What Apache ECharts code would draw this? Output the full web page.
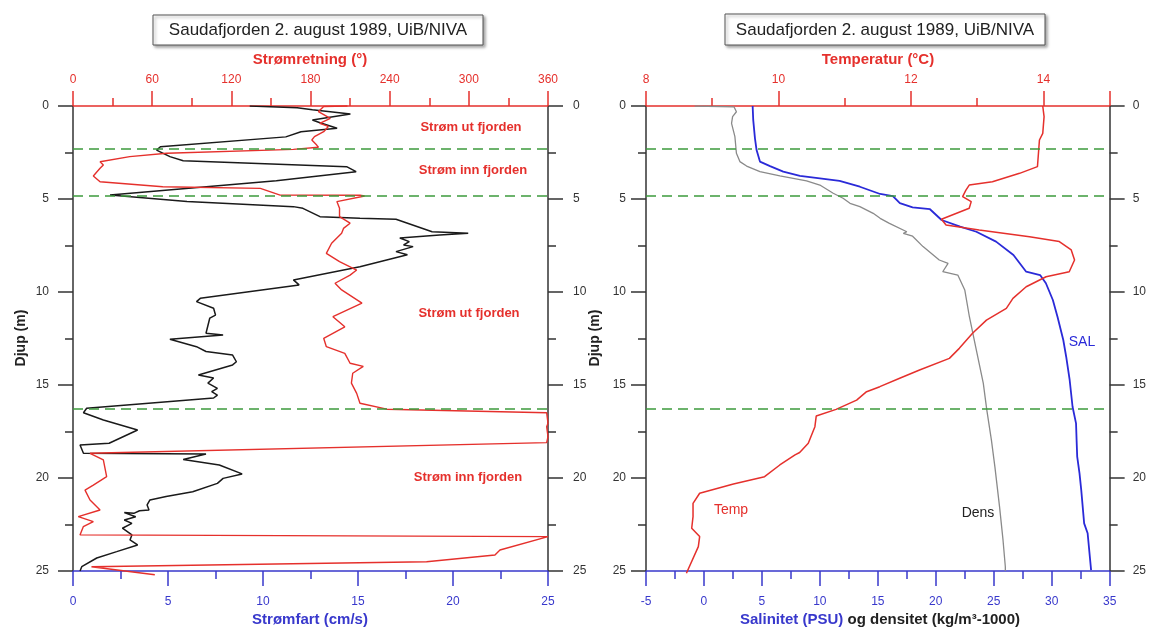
<!DOCTYPE html>
<html>
<head>
<meta charset="utf-8">
<script src="https://cdn.jsdelivr.net/npm/echarts@6/dist/echarts.min.js"></script>
<style>
html,body{margin:0;padding:0;background:#fff;}
#chart{width:1149px;height:629px;}
</style>
</head>
<body>
<div id="chart"></div>
<script>
// ---------- DATA ----------
const titleText = 'Saudafjorden 2. august 1989, UiB/NIVA';

// Left panel: current speed (cm/s) vs depth (m)
const speedDepth = [0,0.1,0.2,0.43,0.75,0.9,1.2,1.38,1.66,2.19,2.37,2.72,2.94,3.26,3.53,4.02,4.79,5.14,5.41,5.5,5.95,6.03,6.09,6.76,6.84,6.94,7.1,7.29,7.47,7.56,7.83,8.0,8.64,9.35,9.62,10.34,10.52,10.87,11.24,11.4,12.22,12.31,12.54,12.94,13.2,13.39,13.75,13.92,14.46,14.62,14.9,15.18,15.36,15.54,15.7,16.25,16.49,16.88,17.42,18.13,18.23,18.67,18.71,19.0,19.3,19.78,20.02,20.29,20.74,21.0,21.18,21.45,21.72,21.76,21.9,21.86,22.08,22.26,22.44,22.7,23.06,23.33,23.6,23.96,24.3,24.77,25.0];
const speedVals  = [9.3,11.8,12.6,14.6,12.6,13.0,13.9,12.0,11.2,4.6,4.4,5.1,5.8,14.4,14.9,10.7,1.95,6.0,11.6,12.1,13.0,15.1,17.0,18.9,20.8,19.3,17.2,17.7,17.4,17.9,17.0,17.6,15.1,11.6,11.9,6.7,6.5,7.4,7.5,7.2,7.0,7.9,5.1,6.5,7.0,8.4,8.6,8.4,6.6,7.4,7.1,7.6,7.3,7.6,7.4,0.72,0.55,1.6,3.4,1.9,0.37,0.55,7.0,5.8,7.7,8.9,7.9,7.6,6.3,4.9,4.05,3.9,4.0,3.5,3.2,2.7,3.3,2.7,3.1,2.6,3.1,3.0,3.4,2.3,1.25,0.46,0.37];

// Left panel: current direction (degrees) vs depth (m)
const dirDepth = [0,0.03,0.3,0.66,0.93,1.1,1.38,1.65,1.83,2.1,2.22,2.33,2.54,2.72,3.0,3.17,3.35,3.76,4.07,4.34,4.43,4.79,4.8,4.84,5.14,5.5,5.95,6.3,6.58,6.84,7.38,7.92,8.37,8.82,9.09,9.53,9.89,10.6,11.33,11.87,12.49,12.94,13.3,13.83,14.0,14.37,14.9,15.45,15.98,16.3,16.49,17.06,17.24,17.78,18.1,18.67,19.03,19.93,20.38,20.65,21.18,21.72,22.08,22.35,22.62,23.06,23.1,23.15,23.87,24.14,24.5,24.77,25.2];
const dirVals  = [208,190,186,195,187,193.5,190,183,181,184.7,186,167,71,43,20.5,23,20.5,15.4,20.5,68,142,157,217.5,221,200,202,202,210,205,203.6,196,192,202,215,210,198.6,203.6,219,197,206,190,192,206,210,220,212,211,215,217.5,237.8,359,360,359,360,359,12.9,23,25.5,15.4,9.1,12.9,20.5,4,15.4,7.8,5.3,5,360,323.6,319.8,268,14,62];

// Right panel: temperature (°C) vs depth (m)
const tempDepth = [0,0.57,1.47,1.83,3.26,3.62,4.07,4.25,4.52,4.87,5.14,5.5,6.09,6.4,6.67,7.03,7.29,7.74,8.28,8.91,9.18,9.72,10.34,10.88,11.51,12.22,13.03,13.57,14.19,14.64,15.09,15.36,15.81,16.31,16.67,17.24,18.13,18.63,18.76,19.3,19.93,20.32,20.82,21.36,22.08,22.7,23.15,23.69,25.12];
const tempVals  = [13.99,14.01,13.99,13.94,13.91,13.64,13.23,12.88,12.83,12.78,12.91,12.88,12.46,12.53,13.03,13.79,14.24,14.42,14.47,14.39,14.04,13.74,13.54,13.44,13.14,12.93,12.73,12.58,12.13,11.83,11.53,11.33,11.18,10.87,10.57,10.55,10.45,10.32,10.25,10.02,9.79,9.32,8.81,8.71,8.71,8.69,8.81,8.79,8.61];

// Right panel: salinity (PSU) vs depth (m)
const salDepth = [0,0.75,1.74,2.37,2.99,3.23,3.53,3.76,3.89,4.02,4.34,4.73,4.84,5.22,5.45,5.55,6.13,6.49,6.76,7.29,8.01,8.91,9.09,9.53,10.43,11.33,12.58,13.48,14.73,16.17,17.06,18.0,18.85,19.75,20.65,22.44,22.97,24.95];
const salVals  = [4.2,4.25,4.4,4.54,4.83,5.7,6.84,8.28,10.0,11.7,13.45,15.2,16.3,16.9,18.0,19.5,20.5,22.1,23.5,25.2,26.7,27.8,29.0,29.5,30.1,30.5,31.0,31.25,31.55,31.8,32.1,32.15,32.2,32.4,32.55,32.8,33.1,33.4];

// Right panel: density (kg/m3 - 1000) vs depth (m)
const densDepth = [0,0.05,0.12,0.31,0.57,0.93,1.65,2.54,2.99,3.23,3.53,3.76,4.02,4.25,4.69,4.96,5.23,5.41,5.77,6.04,6.31,6.76,6.85,7.0,7.56,8.28,8.46,8.91,9.09,9.89,11.33,13.12,14.91,16.34,17.96,19.4,21.54,23.33,24.77,25.0];
const densVals  = [-0.8,2.6,2.67,2.8,2.47,2.38,2.67,2.8,3.1,3.68,4.83,6.55,8.85,10.0,11.15,12.0,12.6,13.45,14.6,15.2,16.0,17.5,17.2,18.0,18.9,20.3,21.06,20.6,21.9,22.5,22.9,23.5,24.1,24.4,24.8,25.1,25.5,25.8,26.0,26.0];

// Layer boundaries (m)
const boundaryDepths = [2.28, 4.8, 16.3];

// Axis tick settings
const depthRange = [0, 25];
const speedRange = [0, 25];
const dirRange = [0, 360];
const salRange = [-5, 35];
const tempRange = [8, 15];
const tempMajorTicks = [8, 10, 12, 14, 15];
const tempLabelTicks = [8, 10, 12, 14];
const tempMinorTicks = [9, 11, 13];

// ---------- CHART ----------
const FONT = 'Liberation Sans, Arial, sans-serif';
const RED = '#e5302c';
const BLUE = '#3838cc';
const DARK = '#333333';
const GREEN = '#3d9a3d';

const pairs = (xs, ds) => ds.map((d, i) => [xs[i], d]);

function yAx(grid, pos, margin) {
  return {
    type: 'value', gridIndex: grid, position: pos, inverse: true,
    min: depthRange[0], max: depthRange[1], interval: 5,
    axisLine: { show: true, onZero: false, lineStyle: { color: DARK, width: 1.5 } },
    axisTick: { show: true, inside: false, length: 15, lineStyle: { color: DARK, width: 1.5 } },
    minorTick: { show: true, splitNumber: 2, length: 8, lineStyle: { color: DARK, width: 1.5 } },
    axisLabel: { margin: margin, color: DARK, fontSize: 12, fontFamily: FONT },
    splitLine: { show: false }, minorSplitLine: { show: false }
  };
}
function xAx(grid, pos, range, interval, color, margin) {
  return {
    type: 'value', gridIndex: grid, position: pos,
    min: range[0], max: range[1], interval: interval,
    axisLine: { show: true, onZero: false, lineStyle: { color: color, width: 1.5 } },
    axisTick: { show: true, inside: false, length: 15, lineStyle: { color: color, width: 1.5 } },
    minorTick: { show: true, splitNumber: 2, length: 8, lineStyle: { color: color, width: 1.5 } },
    axisLabel: { margin: margin, color: color, fontSize: 12, fontFamily: FONT },
    splitLine: { show: false }, minorSplitLine: { show: false }
  };
}

const boundaryMarks = {
  silent: true, symbol: ['none', 'none'], animation: false,
  label: { show: false },
  lineStyle: { type: [10, 6], color: GREEN, width: 1.5 },
  data: boundaryDepths.map(d => ({ yAxis: d }))
};

const tempTop = xAx(1, 'top', tempRange, 2, RED, 20);
tempTop.minorTick = { show: false };
tempTop.axisTick.customValues = tempMajorTicks;
tempTop.axisLabel.customValues = tempLabelTicks;
const tempMinor = {
  type: 'value', gridIndex: 1, position: 'top', min: tempRange[0], max: tempRange[1],
  axisLine: { show: false, onZero: false },
  axisTick: { show: true, inside: false, length: 8, customValues: tempMinorTicks, lineStyle: { color: RED, width: 1.5 } },
  axisLabel: { show: false }, splitLine: { show: false }
};

const option = {
  animation: false,
  backgroundColor: '#ffffff',
  textStyle: { fontFamily: FONT },
  grid: [
    { left: 73, top: 106, width: 475, height: 465 },
    { left: 646, top: 106, width: 464, height: 465 }
  ],
  xAxis: [
    xAx(0, 'bottom', speedRange, 5, BLUE, 25),
    xAx(0, 'top', dirRange, 60, RED, 20),
    xAx(1, 'bottom', salRange, 5, BLUE, 25),
    tempTop,
    tempMinor
  ],
  yAxis: [
    yAx(0, 'left', 24),
    yAx(0, 'right', 25),
    yAx(1, 'left', 20),
    yAx(1, 'right', 23)
  ],
  series: [
    { name: 'Strømfart', type: 'line', xAxisIndex: 0, yAxisIndex: 0, symbol: 'none',
      data: pairs(speedVals, speedDepth), lineStyle: { color: '#1a1a1a', width: 1.5 }, z: 3,
      markLine: boundaryMarks },
    { name: 'Strømretning', type: 'line', xAxisIndex: 1, yAxisIndex: 0, symbol: 'none', clip: false,
      data: pairs(dirVals, dirDepth), lineStyle: { color: RED, width: 1.4 }, z: 4 },
    { name: 'SAL', type: 'line', xAxisIndex: 2, yAxisIndex: 2, symbol: 'none',
      data: pairs(salVals, salDepth), lineStyle: { color: '#2a2ad8', width: 1.8 }, z: 3,
      markLine: boundaryMarks },
    { name: 'Dens', type: 'line', xAxisIndex: 2, yAxisIndex: 2, symbol: 'none',
      data: pairs(densVals, densDepth), lineStyle: { color: '#8a8a8a', width: 1.3 }, z: 3 },
    { name: 'Temp', type: 'line', xAxisIndex: 3, yAxisIndex: 2, symbol: 'none', clip: false,
      data: pairs(tempVals, tempDepth), lineStyle: { color: RED, width: 1.5 }, z: 4 }
  ],
  graphic: [
    { type: 'rect', shape: { x: 153, y: 15, width: 330, height: 30 },
      style: { fill: '#fff', stroke: '#555', lineWidth: 1, shadowBlur: 3, shadowOffsetX: 2, shadowOffsetY: 2, shadowColor: 'rgba(0,0,0,0.35)' } },
    { type: 'text', style: { text: titleText, x: 318, y: 30, align: 'center', verticalAlign: 'middle', font: '17px ' + FONT, fill: '#222' } },
    { type: 'rect', shape: { x: 725, y: 14, width: 320, height: 31 },
      style: { fill: '#fff', stroke: '#555', lineWidth: 1, shadowBlur: 3, shadowOffsetX: 2, shadowOffsetY: 2, shadowColor: 'rgba(0,0,0,0.35)' } },
    { type: 'text', style: { text: titleText, x: 885, y: 30, align: 'center', verticalAlign: 'middle', font: '17px ' + FONT, fill: '#222' } },

    { type: 'text', style: { text: 'Strømretning (°)', x: 310, y: 60, align: 'center', verticalAlign: 'middle', font: 'bold 15px ' + FONT, fill: RED } },
    { type: 'text', style: { text: 'Strømfart (cm/s)', x: 310, y: 620, align: 'center', verticalAlign: 'middle', font: 'bold 15px ' + FONT, fill: BLUE } },
    { type: 'text', style: { text: 'Temperatur (°C)', x: 878, y: 60, align: 'center', verticalAlign: 'middle', font: 'bold 15px ' + FONT, fill: RED } },
    { type: 'text', style: { text: '{b|Salinitet (PSU)}{k| og densitet (kg/m³-1000)}', x: 880, y: 620, align: 'center', verticalAlign: 'middle',
      rich: { b: { font: 'bold 15px ' + FONT, fill: BLUE, color: BLUE }, k: { font: 'bold 15px ' + FONT, fill: '#222', color: '#222' } } } },
    { type: 'text', x: 21, y: 338, rotation: Math.PI / 2, style: { text: 'Djup (m)', x: 0, y: 0, align: 'center', verticalAlign: 'middle', font: 'bold 14px ' + FONT, fill: '#222' } },
    { type: 'text', x: 595, y: 338, rotation: Math.PI / 2, style: { text: 'Djup (m)', x: 0, y: 0, align: 'center', verticalAlign: 'middle', font: 'bold 14px ' + FONT, fill: '#222' } },

    { type: 'text', style: { text: 'Strøm ut fjorden', x: 471, y: 127, align: 'center', verticalAlign: 'middle', font: 'bold 13px ' + FONT, fill: RED } },
    { type: 'text', style: { text: 'Strøm inn fjorden', x: 473, y: 170, align: 'center', verticalAlign: 'middle', font: 'bold 13px ' + FONT, fill: RED } },
    { type: 'text', style: { text: 'Strøm ut fjorden', x: 469, y: 313, align: 'center', verticalAlign: 'middle', font: 'bold 13px ' + FONT, fill: RED } },
    { type: 'text', style: { text: 'Strøm inn fjorden', x: 468, y: 477, align: 'center', verticalAlign: 'middle', font: 'bold 13px ' + FONT, fill: RED } },

    { type: 'text', style: { text: 'Temp', x: 731, y: 510, align: 'center', verticalAlign: 'middle', font: '14px ' + FONT, fill: RED } },
    { type: 'text', style: { text: 'Dens', x: 978, y: 513, align: 'center', verticalAlign: 'middle', font: '14px ' + FONT, fill: '#222' } },
    { type: 'text', style: { text: 'SAL', x: 1082, y: 342, align: 'center', verticalAlign: 'middle', font: '14px ' + FONT, fill: '#2a2ad8' } }
  ]
};

const chart = echarts.init(document.getElementById('chart'), null, { renderer: 'canvas' });
chart.setOption(option);
</script>
</body>
</html>
